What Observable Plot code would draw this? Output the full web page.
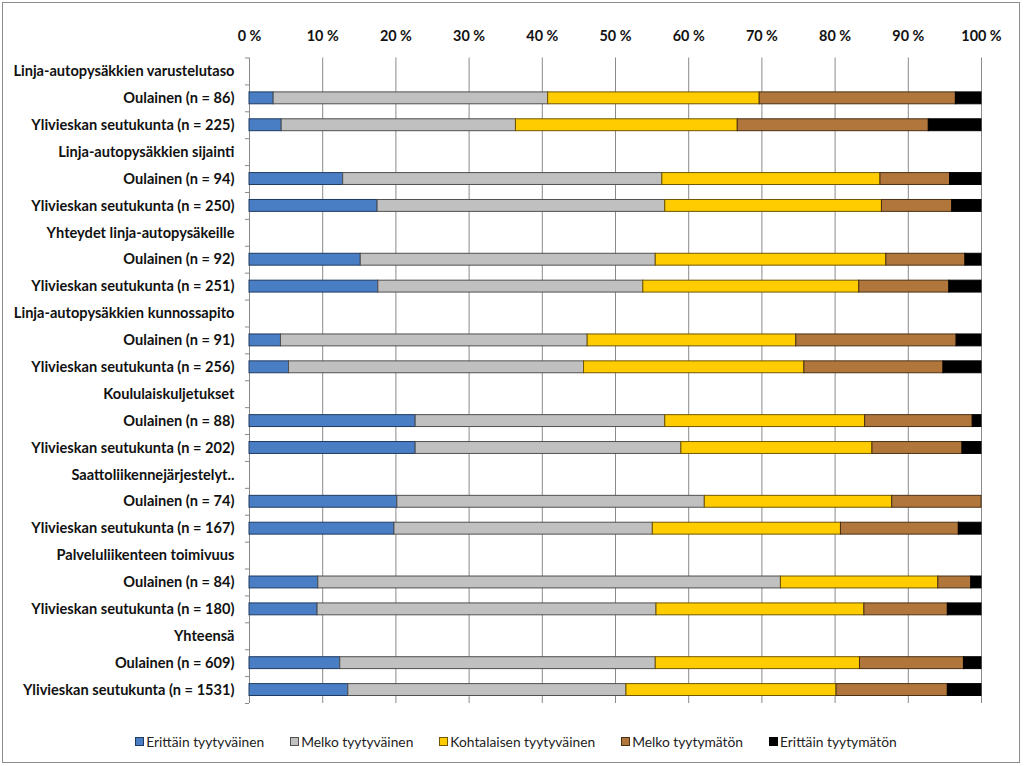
<!DOCTYPE html>
<html><head><meta charset="utf-8">
<script src="https://cdn.jsdelivr.net/npm/d3@7"></script>
<script src="https://cdn.jsdelivr.net/npm/@observablehq/plot@0.6"></script>
<style>
body{margin:0;background:#fff;width:1024px;height:766px;overflow:hidden;}
#frame{position:absolute;left:2px;top:2px;width:1018px;height:761px;border:1px solid #8c8c8c;box-sizing:border-box;}
#chart{position:absolute;left:0;top:0;}
#legend{position:absolute;top:733px;left:0;width:1032px;display:flex;justify-content:center;gap:26px;font:13.8px Lato, sans-serif;color:#222;}
#legend .item{display:flex;align-items:center;white-space:nowrap;}
#legend .sw{width:7px;height:7px;border:1px solid #333;margin-right:2px;}
</style></head><body>
<div id="frame"></div>
<div id="chart"></div>
<div id="legend"></div>
<script>
// Group headers
const groups = [
  "Linja-autopysäkkien varustelutaso",
  "Linja-autopysäkkien sijainti",
  "Yhteydet linja-autopysäkeille",
  "Linja-autopysäkkien kunnossapito",
  "Koululaiskuljetukset",
  "Saattoliikennejärjestelyt..",
  "Palveluliikenteen toimivuus",
  "Yhteensä"
];
// Respondent rows (two per group, in order)
const rowLabels = [
  "Oulainen (n = 86)", "Ylivieskan seutukunta (n = 225)",
  "Oulainen (n = 94)", "Ylivieskan seutukunta (n = 250)",
  "Oulainen (n = 92)", "Ylivieskan seutukunta (n = 251)",
  "Oulainen (n = 91)", "Ylivieskan seutukunta (n = 256)",
  "Oulainen (n = 88)", "Ylivieskan seutukunta (n = 202)",
  "Oulainen (n = 74)", "Ylivieskan seutukunta (n = 167)",
  "Oulainen (n = 84)", "Ylivieskan seutukunta (n = 180)",
  "Oulainen (n = 609)", "Ylivieskan seutukunta (n = 1531)"
];
// Series (percent)
const seriesNames = ["Erittäin tyytyväinen", "Melko tyytyväinen", "Kohtalaisen tyytyväinen", "Melko tyytymätön", "Erittäin tyytymätön"];
const erittainTyytyvainen   = [3.3, 4.4, 12.8, 17.5, 15.2, 17.6, 4.3, 5.4, 22.7, 22.7, 20.2, 19.8, 9.4, 9.3, 12.4, 13.5];
const melkoTyytyvainen      = [37.5, 32.0, 43.6, 39.3, 40.3, 36.2, 41.9, 40.3, 34.1, 36.3, 42.0, 35.3, 63.2, 46.3, 43.1, 38.0];
const kohtalaisenTyytyvainen= [28.9, 30.3, 29.8, 29.6, 31.5, 29.5, 28.5, 30.1, 27.3, 26.1, 25.6, 25.7, 21.5, 28.4, 27.9, 28.7];
const melkoTyytymaton       = [26.8, 26.1, 9.5, 9.6, 10.8, 12.3, 21.9, 19.0, 14.7, 12.3, 12.2, 16.1, 4.5, 11.4, 14.2, 15.2];
const erittainTyytymaton    = [3.5, 7.2, 4.3, 4.0, 2.2, 4.4, 3.4, 5.2, 1.2, 2.6, 0.0, 3.1, 1.4, 4.6, 2.4, 4.6];
const xTicks = [0, 10, 20, 30, 40, 50, 60, 70, 80, 90, 100];

const fills   = ["#4A7EC4", "#C0C0C0", "#FFCC00", "#B0763C", "#000000"];
const strokes = ["#1F3A60", "#505050", "#6F5600", "#4A3015", "#000000"];
const seriesValues = [erittainTyytyvainen, melkoTyytyvainen, kohtalaisenTyytyvainen, melkoTyytymaton, erittainTyytymaton];

// y domain: header, then two rows per group
const domain = [];
groups.forEach((g, i) => { domain.push(g, rowLabels[2*i], rowLabels[2*i+1]); });

// stacked segments
const segs = [];
rowLabels.forEach((lab, r) => {
  let acc = 0;
  seriesValues.forEach((vals, s) => {
    const v = vals[r];
    segs.push({row: lab, s, x1: acc, x2: acc + v});
    acc += v;
  });
});

const plotTop = 57.5, plotBottom = 703, H = 720;
const step = (plotBottom - plotTop) / domain.length;

const plot = Plot.plot({
  width: 1024,
  height: H,
  marginTop: plotTop,
  marginBottom: H - plotBottom,
  marginLeft: 249,
  marginRight: 43,
  style: {fontFamily: "Lato, sans-serif", background: "transparent", color: "#111"},
  x: {domain: [0, 100]},
  y: {domain, padding: 0, round: false},
  marks: [
    Plot.gridX(xTicks, {stroke: "#8a8a8a", strokeOpacity: 1}),
    Plot.ruleY(domain, {y: d => d, dy: -step/2, x1: -0.55, x2: 0, stroke: "#8a8a8a"}),
    Plot.ruleY([domain[domain.length-1]], {y: d => d, dy: step/2, x1: -0.55, x2: 0, stroke: "#8a8a8a"}),
    ...seriesValues.map((_, s) => Plot.barX(segs.filter(d => d.s === s && d.x2 > d.x1), {
      x1: "x1", x2: "x2", y: "row",
      fill: fills[s], stroke: strokes[s], strokeWidth: 1,
      insetTop: 7.5, insetBottom: 7.5
    })),
    Plot.axisX(xTicks, {anchor: "top", tickSize: 0, tickPadding: 17, tickFormat: d => d + " %", fontSize: 14.4, fontWeight: "bold", label: null}),
    Plot.axisY({tickSize: 0, tickPadding: 15, fontSize: 14.6, fontWeight: "bold", label: null})
  ]
});
document.getElementById("chart").appendChild(plot);

const leg = document.getElementById("legend");
seriesNames.forEach((n, i) => {
  const it = document.createElement("div");
  it.className = "item";
  it.innerHTML = `<span class="sw" style="background:${fills[i]};border-color:${strokes[i]}"></span><span>${n}</span>`;
  leg.appendChild(it);
});
</script>
</body></html>
